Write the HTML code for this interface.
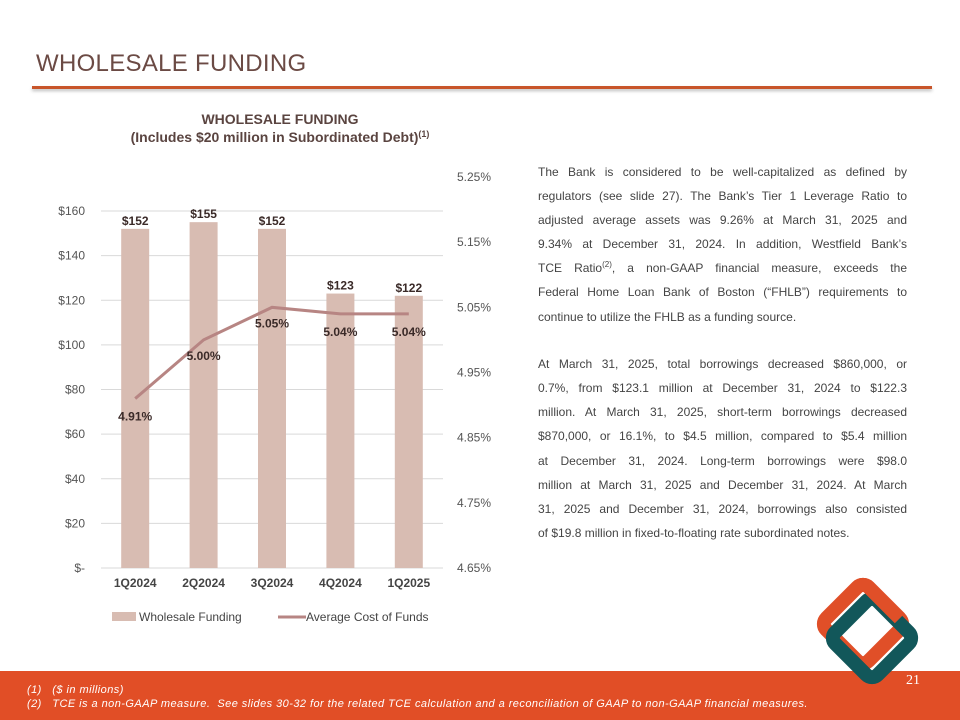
<!DOCTYPE html>
<html><head><meta charset="utf-8"><style>
body{margin:0;width:960px;height:720px;position:relative;background:#fff;font-family:"Liberation Sans",sans-serif;overflow:hidden}
.title{position:absolute;left:36px;top:50px;font-size:24px;color:#6b4a44;letter-spacing:0.3px}
.rule{position:absolute;left:32px;top:86px;width:900px;height:3px;background:#c8552a;box-shadow:0 2px 3px #bbb}
.body{position:absolute;left:538px;top:160px;width:369px;font-size:12px;line-height:24.1px;color:#444}
.body p{margin:0 0 23.5px 0}
.body span{display:block;white-space:nowrap;text-align:justify;text-align-last:justify}
.body span.last{text-align-last:left}
.body sup{line-height:0;font-size:8px}
.footer{position:absolute;left:0;top:671px;width:960px;height:49px;background:#e14e26}
.fn{position:absolute;left:27px;color:#fff;font-style:italic;font-size:11px;letter-spacing:0.45px}
</style></head><body>
<div class="title">WHOLESALE FUNDING</div>
<div class="rule"></div>
<div class="body">
<p><span>The Bank is considered to be well-capitalized as defined by</span><span>regulators (see slide 27). The Bank’s Tier 1 Leverage Ratio to</span><span>adjusted average assets was 9.26% at March 31, 2025 and</span><span>9.34% at December 31, 2024. In addition, Westfield Bank’s</span><span>TCE Ratio<sup>(2)</sup>, a non-GAAP financial measure, exceeds the</span><span>Federal Home Loan Bank of Boston (“FHLB”) requirements to</span><span class="last">continue to utilize the FHLB as a funding source.</span></p>
<p><span>At March 31, 2025, total borrowings decreased $860,000, or</span><span>0.7%, from $123.1 million at December 31, 2024 to $122.3</span><span>million. At March 31, 2025, short-term borrowings decreased</span><span>$870,000, or 16.1%, to $4.5 million, compared to $5.4 million</span><span>at December 31, 2024. Long-term borrowings were $98.0</span><span>million at March 31, 2025 and December 31, 2024. At March</span><span>31, 2025 and December 31, 2024, borrowings also consisted</span><span class="last">of $19.8 million in fixed-to-floating rate subordinated notes.</span></p>
</div>
<div class="footer">
<div class="fn" style="top:13px">(1)&nbsp;&nbsp; ($ in millions)</div>
<div class="fn" style="top:27px">(2)&nbsp;&nbsp; TCE is a non-GAAP measure.&nbsp; See slides 30-32 for the related TCE calculation and a reconciliation of GAAP to non-GAAP financial measures.</div>
<div style="position:absolute;left:906px;top:2px;color:#fff;font-family:'Liberation Serif',serif;font-size:14px">21</div>
</div>
<svg style="position:absolute;left:0;top:0" width="960" height="720">
<g transform="translate(863,624) rotate(45)"><rect x="-30" y="-30" width="60" height="60" rx="8" fill="none" stroke="#e04f28" stroke-width="14"/></g>
<g transform="translate(872,638) rotate(45)"><rect x="-30" y="-30" width="60" height="60" rx="8" fill="none" stroke="#12575a" stroke-width="14"/></g>
<g transform="translate(863,624) rotate(45)"><path d="M-30 22 V-22 a8 8 0 0 1 8 -8 H22" fill="none" stroke="#e04f28" stroke-width="14"/></g>
</svg>
<svg id="chart" style="position:absolute;left:0;top:0" width="520" height="660">
<text x="280" y="124" text-anchor="middle" font-size="14" font-weight="bold" fill="#5a4440">WHOLESALE FUNDING</text>
<text x="280" y="142" text-anchor="middle" font-size="14" font-weight="bold" fill="#5a4440">(Includes $20 million in Subordinated Debt)<tspan font-size="9" dy="-5">(1)</tspan></text>
</svg>
<script>
const categories=["1Q2024","2Q2024","3Q2024","4Q2024","1Q2025"];
const funding=[152,155,152,123,122];
const costOfFunds=[4.91,5.00,5.05,5.04,5.04];
const leftTicks=[0,20,40,60,80,100,120,140,160];
const leftTickLabels=["$-","$20","$40","$60","$80","$100","$120","$140","$160"];
const rightTicks=[4.65,4.75,4.85,4.95,5.05,5.15,5.25];

const svg=document.getElementById('chart');
const NS='http://www.w3.org/2000/svg';
const x0=101,x1=443,yB=568,yT=211;
const yL=v=>yB-(v/160)*(yB-yT);
const yR=v=>yB-(v-4.65)/0.6*(568-177);
const step=(x1-x0)/categories.length;
const xC=i=>x0+step*(i+0.5);
function mk(tag,attrs,text){const e=document.createElementNS(NS,tag);for(const k in attrs)e.setAttribute(k,attrs[k]);if(text!=null)e.textContent=text;svg.appendChild(e);return e;}
leftTicks.forEach((t,i)=>{
  const g=mk('line',{x1:x0,x2:x1,y1:yL(t),y2:yL(t),stroke:'#d9d9d9','stroke-width':1});
  
  
  const l=mk('text',{x:85,y:yL(t)+4,'text-anchor':'end','font-size':12,fill:'#555'},leftTickLabels[i]);
  
  
});
rightTicks.forEach(t=>{
  const l=mk('text',{x:491,y:yR(t)+4,'text-anchor':'end','font-size':12,fill:'#555'},t.toFixed(2)+'%');
  
  
});
funding.forEach((v,i)=>{
  const b=mk('rect',{x:xC(i)-14,y:yL(v),width:28,height:yB-yL(v),fill:'#d8bcb2'});
  
  
  const l=mk('text',{x:xC(i),y:yL(v)-4,'text-anchor':'middle','font-size':12,'font-weight':'bold',fill:'#3a2a28'},'$'+v);
  
  
  const c=mk('text',{x:xC(i),y:587,'text-anchor':'middle','font-size':12,'font-weight':'bold',fill:'#444'},categories[i]);
  
  
});
const pts=costOfFunds.map((v,i)=>xC(i)+','+yR(v)).join(' ');
const ln=mk('polyline',{points:pts,fill:'none',stroke:'#b78583','stroke-width':3});


const offs=[22,20,20,22,22];
costOfFunds.forEach((v,i)=>{
  const l=mk('text',{x:xC(i),y:yR(v)+offs[i],'text-anchor':'middle','font-size':12,'font-weight':'bold',fill:'#3a2a28'},v.toFixed(2)+'%');
  
  
});
const lg1=mk('rect',{x:112,y:612,width:24,height:9,fill:'#d8bcb2'});


const lt1=mk('text',{x:139,y:621,'font-size':12,fill:'#444'},'Wholesale Funding');


const lg2=mk('line',{x1:278,x2:306,y1:617,y2:617,stroke:'#b78583','stroke-width':3});


const lt2=mk('text',{x:306,y:621,'font-size':12,fill:'#444'},'Average Cost of Funds');


</script>
</body></html>
